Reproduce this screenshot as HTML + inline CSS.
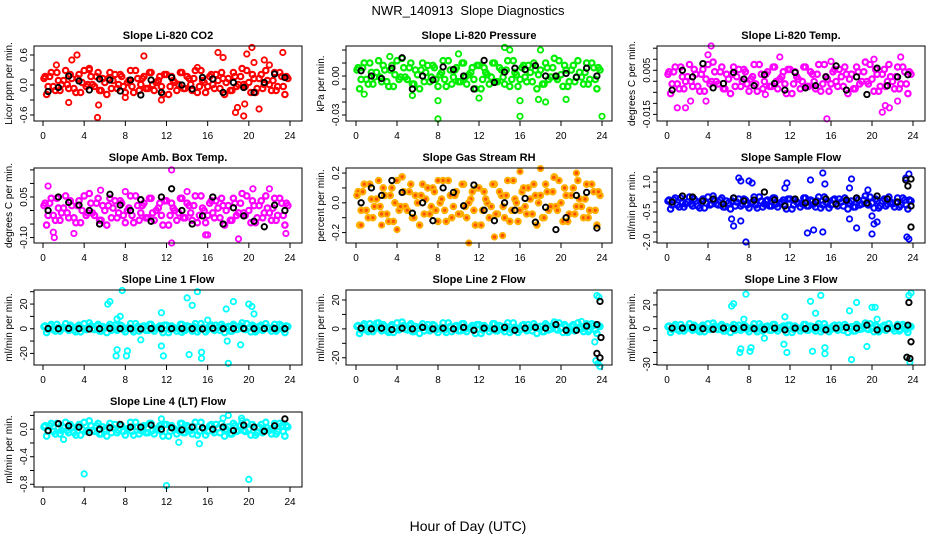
<!DOCTYPE html>
<html><head><meta charset="utf-8"><style>
html,body{margin:0;padding:0;background:#fff;}
svg{display:block;font-family:"Liberation Sans",Arial,sans-serif;}
</style></head><body>
<svg id="chart" width="936" height="540" viewBox="0 0 936 540" xmlns="http://www.w3.org/2000/svg">
<rect width="936" height="540" fill="#fff"/>
<text x="468" y="15" text-anchor="middle" font-size="13" xml:space="preserve" style="white-space:pre">NWR_140913  Slope Diagnostics</text>
<text x="468" y="531" text-anchor="middle" font-size="14">Hour of Day (UTC)</text>
<g id="panels"></g>
</svg>
<script>
const bandT=[0.2,0.5,0.8,1.2,1.5,1.8,2.2,2.5,2.8,3.2,3.5,3.8,4.2,4.5,4.8,5.2,5.5,5.8,6.2,6.5,6.8,7.2,7.5,7.8,8.2,8.5,8.8,9.2,9.5,9.8,10.2,10.5,10.8,11.2,11.5,11.8,12.2,12.5,12.8,13.2,13.5,13.8,14.2,14.5,14.8,15.2,15.5,15.8,16.2,16.5,16.8,17.2,17.5,17.8,18.2,18.5,18.8,19.2,19.5,19.8,20.2,20.5,20.8,21.2,21.5,21.8,22.2,22.5,22.8,23.2,23.5,23.8];
const bandT2=[0.1,0.35,0.65,1.0,1.35,1.65,2.0,2.35,2.65,3.0,3.35,3.65,4.0,4.35,4.65,5.0,5.35,5.65,6.0,6.35,6.65,7.0,7.35,7.65,8.0,8.35,8.65,9.0,9.35,9.65,10.0,10.35,10.65,11.0,11.35,11.65,12.0,12.35,12.65,13.0,13.35,13.65,14.0,14.35,14.65,15.0,15.35,15.65,16.0,16.35,16.65,17.0,17.35,17.65,18.0,18.35,18.65,19.0,19.35,19.65,20.0,20.35,20.65,21.0,21.35,21.65,22.0,22.35,22.65,23.0,23.35,23.65];
const blackT=[0.5,1.5,2.5,3.5,4.5,5.5,6.5,7.5,8.5,9.5,10.5,11.5,12.5,13.5,14.5,15.5,16.5,17.5,18.5,19.5,20.5,21.5,22.5,23.5];
const xTicks=[0,4,8,12,16,20,24];

const co2Band=[0.17,-0.03,0.25,-0.11,0.09,0.01,0.29,-0.07,0.13,-0.15,0.21,0.05,-0.03,0.33,0.01,0.17,-0.11,0.13,-0.19,0.25,0.09,-0.07,0.21,-0.03,0.05,0.29,-0.15,0.13,0.01,0.17,-0.07,0.25,-0.11,0.09,-0.03,0.21,-0.19,0.17,0.05,0.01,0.25,-0.07,0.13,-0.11,0.29,-0.03,0.09,-0.15,0.17,0.01,0.21,-0.07,0.13,0.05,-0.11,0.25,-0.03,0.17,0.01,0.29,-0.15,0.13,-0.07,0.21,0.01,0.09,-0.11,0.25,-0.03,0.17,-0.19,0.13];
const co2Black=[-0.13,-0.05,0.18,0.08,-0.1,0.12,0.1,-0.12,0.1,-0.2,0.1,-0.15,0.15,0.0,-0.08,0.15,0.12,-0.15,0.05,-0.05,-0.15,0.05,0.22,0.15];
const co2OutT=[2.8,3.3,2.5,5.4,5.3,9.8,11.5,17,17.5,18.7,18.9,19.5,19.6,19.8,20.3,21,20.5,23.3,21.5,1.3,4.5,15,22,8];
const co2OutV=[0.5,0.6,-0.35,-0.4,-0.65,0.58,-0.3,0.65,0.55,-0.55,-0.45,-0.62,-0.38,0.62,0.75,-0.48,0.45,0.65,0.5,0.4,0.3,0.35,0.4,-0.25];
const co2Ticks=[-0.6,-0.3,0,0.3,0.6];
const co2Labels=["-0.6","","0.0","","0.6"];

const presBand=[0.0064,-0.0026,0.01,-0.0062,0.0028,-0.0008,0.0118,-0.0044,0.0046,-0.008,0.0082,0.001,-0.0026,0.0136,-0.0008,0.0064,-0.0062,0.0046,-0.0098,0.01,0.0028,-0.0044,0.0082,-0.0026,0.001,0.0118,-0.008,0.0046,-0.0008,0.0064,-0.0044,0.01,-0.0062,0.0028,-0.0026,0.0082,-0.0098,0.0064,0.001,-0.0008,0.01,-0.0044,0.0046,-0.0062,0.0118,-0.0026,0.0028,-0.008,0.0064,-0.0008,0.0082,-0.0044,0.0046,0.001,-0.0062,0.01,-0.0026,0.0064,-0.0008,0.0118,-0.008,0.0046,-0.0044,0.0082,-0.0008,0.0028,-0.0062,0.01,-0.0026,0.0064,-0.0098,0.0046];
const presBlack=[0.004,0.0,-0.002,0.006,0.014,-0.01,0.0,-0.003,0.007,0.005,0.0,-0.01,0.012,-0.005,0.003,0.006,0.005,0.008,0.0,0.0,0.002,-0.001,0.006,0.0];
const presOutT=[8,16,24,14.5,15,18,3.3,10,8,16,17.8,18.5,20.5,12,0.8,5.5];
const presOutV=[-0.033,-0.031,-0.031,0.022,0.02,0.02,0.015,0.017,-0.019,-0.019,-0.018,-0.02,-0.018,-0.017,-0.014,-0.015];
const presTicks=[-0.03,-0.02,-0.01,0,0.01,0.02];
const presLabels=["-0.03","","","0.00","",""];

const tempBand=[0.0043,-0.0012,0.0065,-0.0034,0.0021,-0.0001,0.0076,-0.0023,0.0032,-0.0045,0.0054,0.001,-0.0012,0.0087,-0.0001,0.0043,-0.0034,0.0032,-0.0056,0.0065,0.0021,-0.0023,0.0054,-0.0012,0.001,0.0076,-0.0045,0.0032,-0.0001,0.0043,-0.0023,0.0065,-0.0034,0.0021,-0.0012,0.0054,-0.0056,0.0043,0.001,-0.0001,0.0065,-0.0023,0.0032,-0.0034,0.0076,-0.0012,0.0021,-0.0045,0.0043,-0.0001,0.0054,-0.0023,0.0032,0.001,-0.0034,0.0065,-0.0012,0.0043,-0.0001,0.0076,-0.0045,0.0032,-0.0023,0.0054,-0.0001,0.0021,-0.0034,0.0065,-0.0012,0.0043,-0.0056,0.0032];
const tempBlack=[-0.004,0.005,0.002,0.008,-0.003,-0.001,0.004,0.001,-0.002,0.003,-0.001,-0.004,0.004,-0.003,-0.002,0.002,0.007,-0.004,0.002,-0.006,0.006,-0.002,0.002,0.003];
const tempOutT=[4.3,15.6,2.3,1,1.8,3.8,21,21.3,21.7,22.5,20.2,16,11,9.6,22.8,4];
const tempOutV=[0.016,-0.017,-0.009,-0.012,-0.012,-0.009,-0.014,-0.011,-0.012,-0.009,0.01,0.009,0.011,-0.006,0.011,0.012];
const tempTicks=[-0.015,-0.01,-0.005,0,0.005,0.01,0.015];
const tempLabels=["-0.015","","","","0.005","",""];

const ambBand=[0.027,-0.018,0.045,-0.036,0.009,-0.009,0.054,-0.027,0.018,-0.045,0.036,0,-0.018,0.063,-0.009,0.027,-0.036,0.018,-0.054,0.045,0.009,-0.027,0.036,-0.018,0,0.054,-0.045,0.018,-0.009,0.027,-0.027,0.045,-0.036,0.009,-0.018,0.036,-0.054,0.027,0,-0.009,0.045,-0.027,0.018,-0.036,0.054,-0.018,0.009,-0.045,0.027,-0.009,0.036,-0.027,0.018,0,-0.036,0.045,-0.018,0.027,-0.009,0.054,-0.045,0.018,-0.027,0.036,-0.009,0.009,-0.036,0.045,-0.018,0.027,-0.054,0.018];
const ambBlack=[0.0,0.05,0.03,0.02,0.0,-0.05,0.06,0.02,0.0,0.04,-0.04,0.05,0.08,0.0,-0.05,-0.02,0.05,-0.05,0.01,-0.02,-0.04,-0.06,0.02,0.0];
const ambOutT=[12.5,12.5,15.8,16,19,1.1,0.5,5.6,8,1,3,20.4,22,23.6,14];
const ambOutV=[0.15,-0.12,-0.09,-0.09,-0.105,-0.1,0.09,0.075,0.07,-0.08,-0.085,0.08,0.08,-0.085,0.07];
const ambTicks=[-0.1,-0.05,0,0.05,0.1,0.15];
const ambLabels=["-0.10","","","0.05","",""];

const rhBand=[0.075,-0.05,0.125,-0.1,0.025,-0.025,0.15,-0.075,0.05,-0.125,0.1,0,-0.05,0.175,-0.025,0.075,-0.1,0.05,-0.15,0.125,0.025,-0.075,0.1,-0.05,0,0.15,-0.125,0.05,-0.025,0.075,-0.075,0.125,-0.1,0.025,-0.05,0.1,-0.15,0.075,0,-0.025,0.125,-0.075,0.05,-0.1,0.15,-0.05,0.025,-0.125,0.075,-0.025,0.1,-0.075,0.05,0,-0.1,0.125,-0.05,0.075,-0.025,0.15,-0.125,0.05,-0.075,0.1,-0.025,0.025,-0.1,0.125,-0.05,0.075,-0.15,0.05];
const rhBlack=[0.0,0.1,0.05,0.15,0.07,-0.07,0.0,-0.12,0.1,0.07,-0.02,0.12,-0.05,-0.12,0.0,-0.05,0.03,-0.13,-0.03,-0.18,-0.1,0.05,0.07,-0.17];
const rhOutT=[11,13.5,14.3,18,16,0.5,2.5,4,8,21.5,19.3];
const rhOutV=[-0.27,-0.23,-0.22,0.23,0.21,-0.15,-0.15,-0.18,0.15,0.2,0.17];
const rhTicks=[-0.2,-0.1,0,0.1,0.2];
const rhLabels=["-0.2","","0.0","","0.2"];

const sfBand=[0.1,-0.15,0.2,-0.25,0,-0.1,0.25,-0.2,0.05,-0.3,0.15,-0.05,-0.15,0.3,-0.1,0.1,-0.25,0.05,-0.35,0.2,0,-0.2,0.15,-0.15,-0.05,0.25,-0.3,0.05,-0.1,0.1,-0.2,0.2,-0.25,0,-0.15,0.15,-0.35,0.1,-0.05,-0.1,0.2,-0.2,0.05,-0.25,0.25,-0.15,0,-0.3,0.1,-0.1,0.15,-0.2,0.05,-0.05,-0.25,0.2,-0.15,0.1,-0.1,0.25,-0.3,0.05,-0.2,0.15,-0.1,0,-0.25,0.2,-0.15,0.1,-0.35,0.05];
const sfBlack=[0.0,0.3,0.25,0.05,0.15,-0.1,0.2,0.05,0.1,0.5,0.1,-0.2,0.15,-0.05,0.0,0.15,-0.1,0.1,0.2,-0.05,0.3,0.15,0.0,0.8];
const sfBlackXT=[23.3,23.8,23.8,23.8];
const sfBlackXV=[1.1,1.15,-1.25,-0.2];
const sfOutT=[7,7.2,8,8.3,11.5,11.7,14,15.2,15.4,18,17.8,23.3,23.6,6.3,6.5,7.7,7.2,13.7,14.3,15.2,17.8,18.5,20,20.2,20.5,20,23.4,23.6,19.6];
const sfOutV=[1.2,1.05,1.05,0.95,0.7,0.95,1.1,1.45,0.9,1.15,0.7,1.2,1.4,-0.85,-1.2,-2.0,-0.95,-1.55,-1.4,-1.5,-0.85,-1.3,-0.7,-1.1,-1.0,-1.6,-1.75,-1.85,0.6];
const sfTicks=[-2,-1.5,-1,-0.5,0,0.5,1,1.5];
const sfLabels=["-2.0","","","-0.5","","","1.0",""];

const l1Band=[2.3,-0.7,3.5,-1.9,1.1,-0.1,4.1,-1.3,1.7,-2.5,2.9,0.5,-0.7,4.7,-0.1,2.3,-1.9,1.7,-3.1,3.5,1.1,-1.3,2.9,-0.7,0.5,4.1,-2.5,1.7,-0.1,2.3,-1.3,3.5,-1.9,1.1,-0.7,2.9,-3.1,2.3,0.5,-0.1,3.5,-1.3,1.7,-1.9,4.1,-0.7,1.1,-2.5,2.3,-0.1,2.9,-1.3,1.7,0.5,-1.9,3.5,-0.7,2.3,-0.1,4.1,-2.5,1.7,-1.3,2.9,-0.1,1.1,-1.9,3.5,-0.7,2.3,-3.1,1.7];
const l1Black=[0.2,0.0,0.3,0.1,-0.2,0.0,0.3,0.1,0.0,-0.1,0.2,0.0,0.1,0.2,0.0,-0.1,0.3,0.0,0.1,0.2,0.0,0.1,0.2,0.0];
const l1OutT=[6.3,6.5,7.7,7.2,7.1,8.2,8.1,7.5,7.2,11.5,11.5,11.7,14,14.2,14.5,15,15.4,15.4,18,17.8,17.9,18.5,19.2,20,20.3,20.5,9.5,13.5,16];
const l1OutV=[20,22,31,-17,-22,-18,-22,10,8,-14,13,-22,25,-21,19,30,-19,-24,-28,16,-10,22,-13,20,18,12,-9,-3,7];
const l1Ticks=[-20,-10,0,10,20,30];
const l1Labels=["-20","","0","","20",""];

const l2Band=[2.3,-0.7,3.5,-1.9,1.1,-0.1,4.1,-1.3,1.7,-2.5,2.9,0.5,-0.7,4.7,-0.1,2.3,-1.9,1.7,-3.1,3.5,1.1,-1.3,2.9,-0.7,0.5,4.1,-2.5,1.7,-0.1,2.3,-1.3,3.5,-1.9,1.1,-0.7,2.9,-3.1,2.3,0.5,-0.1,3.5,-1.3,1.7,-1.9,4.1,-0.7,1.1,-2.5,2.3,-0.1,2.9,-1.3,1.7,0.5,-1.9,3.5,-0.7,2.3,-0.1,4.1,-2.5,1.7,-1.3,2.9,-0.1,1.1,-1.9,3.5,-0.7,2.3,-3.1,1.7];
const l2Black=[0.5,0.0,0.5,-0.5,0.5,0.0,1.0,0.0,0.5,0.0,1.0,-1.0,0.5,0.0,1.0,-1.0,0.5,1.0,0.5,3.0,-1.0,-1.0,2.0,3.0];
const l2BlackXT=[23.8,23.8,23.5,23.9];
const l2BlackXV=[19,-20,-17,-6];
const l2OutT=[23.5,23.7,23.4,23.6,23.8,23.3,2,22];
const l2OutV=[23,22,-22,-24,-26,-9,4,5];
const l2Ticks=[-20,-10,0,10,20];
const l2Labels=["-20","","0","","20"];

const l3Band=[2.3,-0.7,3.5,-1.9,1.1,-0.1,4.1,-1.3,1.7,-2.5,2.9,0.5,-0.7,4.7,-0.1,2.3,-1.9,1.7,-3.1,3.5,1.1,-1.3,2.9,-0.7,0.5,4.1,-2.5,1.7,-0.1,2.3,-1.3,3.5,-1.9,1.1,-0.7,2.9,-3.1,2.3,0.5,-0.1,3.5,-1.3,1.7,-1.9,4.1,-0.7,1.1,-2.5,2.3,-0.1,2.9,-1.3,1.7,0.5,-1.9,3.5,-0.7,2.3,-0.1,4.1,-2.5,1.7,-1.3,2.9,-0.1,1.1,-1.9,3.5,-0.7,2.3,-3.1,1.7];
const l3Black=[0.5,0.5,1.0,0.0,-0.5,0.5,0.0,1.0,0.0,-0.5,0.5,-1.0,0.5,0.0,1.0,-1.0,0.5,1.0,0.5,3.0,-1.0,0.0,2.0,3.0];
const l3BlackXT=[23.6,23.8,23.4,23.7];
const l3BlackXV=[22,-11,-24,-25];
const l3OutT=[6.3,6.5,7.7,7.1,7.2,8.1,8.2,7.5,11.4,11.7,11.5,14,14.2,14.5,15,15.4,15.4,18,17.8,18.5,19.5,20,20.3,20.5,9.5,23.4,23.7,23.6,23.8];
const l3OutV=[19,21,29,-20,-17,-19,-16,8,-13,-20,10,23,-19,13,28,-21,-16,-26,15,22,-15,18,18,8,-8,-24,-28,28,30];
const l3Ticks=[-30,-20,-10,0,10,20,30];
const l3Labels=["-30","","","0","","20",""];

const l4Band=[0.051,-0.034,0.085,-0.068,0.017,-0.017,0.1,-0.051,0.034,-0.085,0.068,0,-0.034,0.12,-0.017,0.051,-0.068,0.034,-0.1,0.085,0.017,-0.051,0.068,-0.034,0,0.1,-0.085,0.034,-0.017,0.051,-0.051,0.085,-0.068,0.017,-0.034,0.068,-0.1,0.051,0,-0.017,0.085,-0.051,0.034,-0.068,0.1,-0.034,0.017,-0.085,0.051,-0.017,0.068,-0.051,0.034,0,-0.068,0.085,-0.034,0.051,-0.017,0.1,-0.085,0.034,-0.051,0.068,-0.017,0.017,-0.068,0.085,-0.034,0.051,-0.1,0.034];
const l4Black=[-0.02,0.08,0.05,0.03,-0.05,0.0,0.02,0.07,0.03,0.03,0.06,0.0,0.02,-0.01,0.03,0.02,0.0,0.03,-0.02,0.06,0.03,-0.03,0.05,0.15];
const l4OutT=[4,12,20,13.2,15.2,17.5,18,19.3,11.5,2];
const l4OutV=[-0.65,-0.82,-0.73,-0.19,-0.21,0.16,0.2,0.16,0.15,-0.15];
const l4Ticks=[-0.8,-0.6,-0.4,-0.2,0,0.2];
const l4Labels=["-0.8","","-0.4","","0.0",""];

const NS="http://www.w3.org/2000/svg";
const cols=[{l:34,r:302,x0:43,x24:290},{l:346,r:612,x0:356,x24:602},{l:657,r:925,x0:667,x24:913}];
const rows=[46,168,290,412];
const BH=75;
const panels=[
 {id:"co2",title:"Slope Li-820 CO2",yl:"Licor ppm per min.",c:0,r:0,ymin:-0.72,ymax:0.78,col:"#ff0000",band:co2Band,black:co2Black,oT:co2OutT,oV:co2OutV,ticks:co2Ticks,labels:co2Labels},
 {id:"pressure",title:"Slope Li-820 Pressure",yl:"kPa per min.",c:1,r:0,ymin:-0.0346,ymax:0.0231,col:"#00ee00",band:presBand,black:presBlack,oT:presOutT,oV:presOutV,ticks:presTicks,labels:presLabels},
 {id:"temp",title:"Slope Li-820 Temp.",yl:"degrees C per min.",c:2,r:0,ymin:-0.018,ymax:0.016,col:"#ff00ff",band:tempBand,black:tempBlack,oT:tempOutT,oV:tempOutV,ticks:tempTicks,labels:tempLabels},
 {id:"amb-temp",title:"Slope Amb. Box Temp.",yl:"degrees C per min.",c:0,r:1,ymin:-0.12,ymax:0.157,col:"#ff00ff",band:ambBand,black:ambBlack,oT:ambOutT,oV:ambOutV,ticks:ambTicks,labels:ambLabels},
 {id:"rh",title:"Slope Gas Stream RH",yl:"percent per min.",c:1,r:1,ymin:-0.27,ymax:0.234,col:"#ffb000",fill:"#ff5000",band:rhBand,black:rhBlack,oT:rhOutT,oV:rhOutV,ticks:rhTicks,labels:rhLabels},
 {id:"sample-flow",title:"Slope Sample Flow",yl:"ml/min per min.",c:2,r:1,ymin:-2.05,ymax:1.7,col:"#0000ff",band:sfBand,black:sfBlack,bxT:sfBlackXT,bxV:sfBlackXV,oT:sfOutT,oV:sfOutV,ticks:sfTicks,labels:sfLabels},
 {id:"line1",title:"Slope Line 1 Flow",yl:"ml/min per min.",c:0,r:2,ymin:-29.4,ymax:31.4,col:"#00ffff",band:l1Band,black:l1Black,oT:l1OutT,oV:l1OutV,ticks:l1Ticks,labels:l1Labels},
 {id:"line2",title:"Slope Line 2 Flow",yl:"ml/min per min.",c:1,r:2,ymin:-25,ymax:26.9,col:"#00ffff",band:l2Band,black:l2Black,bxT:l2BlackXT,bxV:l2BlackXV,oT:l2OutT,oV:l2OutV,ticks:l2Ticks,labels:l2Labels},
 {id:"line3",title:"Slope Line 3 Flow",yl:"ml/min per min.",c:2,r:2,ymin:-30.5,ymax:32.5,col:"#00ffff",band:l3Band,black:l3Black,bxT:l3BlackXT,bxV:l3BlackXV,oT:l3OutT,oV:l3OutV,ticks:l3Ticks,labels:l3Labels},
 {id:"line4",title:"Slope Line 4 (LT) Flow",yl:"ml/min per min.",c:0,r:3,ymin:-0.84,ymax:0.25,col:"#00ffff",band:l4Band,black:l4Black,oT:l4OutT,oV:l4OutV,ticks:l4Ticks,labels:l4Labels}
];
function mk(tag,attrs,parent){const e=document.createElementNS(NS,tag);for(const k in attrs)e.setAttribute(k,attrs[k]);parent.appendChild(e);return e;}
const root=document.getElementById("panels");
panels.forEach(p=>{
 const C=cols[p.c],top=rows[p.r],bot=top+BH;
 const xs=h=>C.x0+(C.x24-C.x0)*h/24;
 const ys=v=>bot-(v-p.ymin)/(p.ymax-p.ymin)*BH;
 const g=mk("g",{},root);
 
 
 const t=mk("text",{x:(C.l+C.r)/2,y:top-7,"text-anchor":"middle","font-size":"11","font-weight":"bold"},g);
 t.textContent=p.title;
 
 
 const yt=mk("text",{x:0,y:0,"text-anchor":"middle","font-size":"10",transform:`translate(${C.l-22},${top+BH/2}) rotate(-90)`},g);
 yt.textContent=p.yl;
 
 
 const pts=mk("g",{},g);
 
 
 const dot=(h,v,stroke,w,fill)=>{const y=ys(v);if(y<top-2||y>bot+2)return;const c=mk("circle",{cx:xs(h).toFixed(1),cy:y.toFixed(1),r:2.7,fill:fill||"none",stroke:stroke,"stroke-width":w},pts);
  
  };
 p.band.forEach((v,i)=>dot(bandT[i],v,p.col,2.2,p.fill));
 const n=p.band.length;
 p.band.forEach((v,i)=>dot(bandT2[i],p.band[n-1-i],p.col,2.2,p.fill));
 p.oV.forEach((v,i)=>dot(p.oT[i],v,p.col,1.8,p.fill));
 p.black.forEach((v,i)=>dot(blackT[i],v,"#000",1.9));
 if(p.bxV)p.bxV.forEach((v,i)=>dot(p.bxT[i],v,"#000",1.9));
 const b=mk("rect",{x:C.l,y:top,width:C.r-C.l,height:BH,fill:"none",stroke:"#000","stroke-width":1},g);
 
 
 const xa=mk("g",{},g);
 
 
 mk("line",{x1:xs(0),x2:xs(24),y1:bot,y2:bot,stroke:"#000"},xa);
 xTicks.forEach(h=>{mk("line",{x1:xs(h),x2:xs(h),y1:bot,y2:bot+5,stroke:"#000"},xa);
  const tl=mk("text",{x:xs(h),y:bot+18,"text-anchor":"middle","font-size":"10"},xa);tl.textContent=h;
  
  });
 const ya=mk("g",{},g);
 
 
 p.ticks.forEach((v,i)=>{const y=ys(v);mk("line",{x1:C.l-4,x2:C.l,y1:y,y2:y,stroke:"#000"},ya);
  if(p.labels[i]){const tl=mk("text",{x:0,y:0,"text-anchor":"middle","font-size":"10",transform:`translate(${C.l-7},${y}) rotate(-90)`},ya);tl.textContent=p.labels[i];
   
   }});
});
</script>
</body></html>
